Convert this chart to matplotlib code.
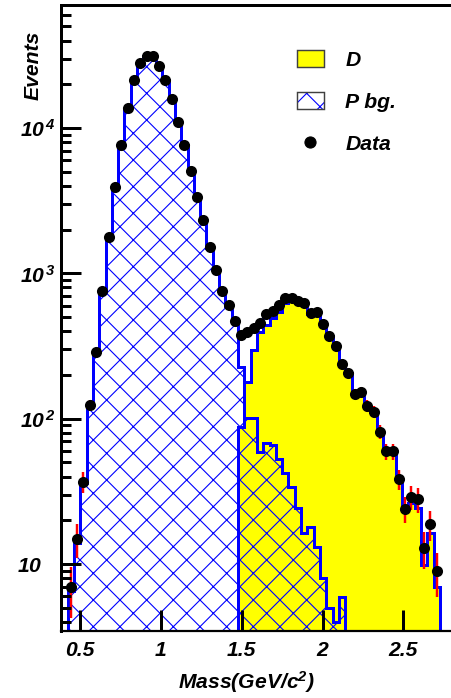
import numpy as np
import matplotlib
matplotlib.use("Agg")
import matplotlib.pyplot as plt
from matplotlib.patches import Patch
from matplotlib.lines import Line2D
from matplotlib.legend_handler import HandlerTuple
from matplotlib.ticker import LogLocator, NullFormatter
from matplotlib.transforms import ScaledTranslation

plt.rcParams['font.family'] = 'Liberation Sans'
plt.rcParams['font.weight'] = 'bold'
plt.rcParams['font.style'] = 'italic'
plt.rcParams['axes.labelweight'] = 'bold'
plt.rcParams['mathtext.fontset'] = 'custom'
plt.rcParams['mathtext.rm'] = 'Liberation Sans:bold:italic'
plt.rcParams['mathtext.it'] = 'Liberation Sans:bold:italic'
plt.rcParams['mathtext.bf'] = 'Liberation Sans:bold:italic'
plt.rcParams['hatch.linewidth'] = 1.0

# binning
n_bins = 62
first_edge = 0.385
bin_width = 0.039

# observed counts, bins 1..59
data_counts = [6.9, 14.9, 36.8, 124, 287, 760, 1771, 3935, 7650, 13680,
               21420, 27920, 31480, 31330, 26870, 21330, 15780, 11070, 7650, 5050,
               3355, 2320, 1512, 1055, 760, 607, 468, 375, 397, 419,
               458, 526, 551, 607, 675, 682, 649, 628, 537, 540,
               449, 371, 316, 237, 206, 149, 153, 123, 111, 81,
               59.5, 59.5, 38.5, 24.0, 28.8, 27.9, 12.9, 18.8, 8.95]
data_first_bin = 1

# P background, bins 1..44
p_bg = [6.5, 14, 36, 120, 280, 750, 1750, 3900, 7600, 13600,
        21300, 27800, 31400, 31300, 26800, 21300, 15800, 11000, 7600, 5000,
        3300, 2300, 1500, 1050, 750, 600, 465, 227, 101, 101,
        59.3, 68.4, 65.9, 52.6, 42.5, 33.7, 24.2, 16.3, 17.9, 13.0,
        7.97, 4.96, 4.0, 5.9]
p_first_bin = 1

# D signal, bins 28..59
d_sig = [88, 180, 297, 397, 442, 493, 545, 630, 645, 625,
         610, 525, 520, 440, 365, 310, 232, 206, 149, 153,
         123, 111, 80, 59.3, 58, 37.8, 24.2, 26.3, 24.3, 9.8,
         16.3, 7.0]
d_first_bin = 28

# fitted total in the overlap bins 28..30 (elsewhere P + D)
fit_total = [372, 395, 416]
fit_first_bin = 28

x_ticks = [0.5, 1, 1.5, 2, 2.5]
x_tick_labels = ['0.5', '1', '1.5', '2', '2.5']
y_ticks = [10, 100, 1000, 10000]
y_tick_labels = [r'$10$', r'$10^{\,2}$', r'$10^{\,3}$', r'$10^{\,4}$']
legend_labels = ['D', 'P bg.', 'Data']


def binned(values, first):
    h = np.zeros(n_bins)
    h[first:first + len(values)] = values
    return h


edges = first_edge + bin_width * np.arange(n_bins + 1)
centers = 0.5 * (edges[:-1] + edges[1:])

h_data = binned(data_counts, data_first_bin)
h_p = binned(p_bg, p_first_bin)
h_d = binned(d_sig, d_first_bin)
h_tot = h_p + h_d
h_tot[fit_first_bin:fit_first_bin + len(fit_total)] = fit_total

floor = 1.0  # below the visible range on the log axis


def lift(h):
    return np.where(h > 0, h, floor)


W, H, DPI = 451, 698, 80
fig = plt.figure(figsize=(W / DPI, H / DPI), dpi=DPI)
ax = fig.add_axes([61.4 / W, 67 / H, 390.6 / W, 626 / H])
ax.set_yscale('log')

lw_hist = 2.7
ax.stairs(lift(h_d), edges, baseline=floor, fill=True,
          facecolor='yellow', edgecolor='blue', linewidth=lw_hist, zorder=2)
ax.stairs(lift(h_p), edges, baseline=floor, fill=True,
          facecolor='none', edgecolor='blue', hatch='x', linewidth=lw_hist, zorder=3)
ax.stairs(lift(h_tot), edges, baseline=floor, fill=False,
          color='blue', linewidth=lw_hist, zorder=4)

sel = h_data > 0
xc = centers[sel]
yc = h_data[sel]
err = np.sqrt(yc)
ax.vlines(xc, yc - err, yc + err, colors='red', linewidth=2.2, zorder=5)
ax.plot(xc, yc, 'o', color='black', markersize=10, markeredgewidth=0, zorder=6)

ax.set_xlim(0.385, 2.80)
ax.set_ylim(3.46, 70240)

ax.set_xticks(x_ticks, labels=x_tick_labels)
ax.xaxis.set_minor_locator(plt.NullLocator())
ax.set_yticks(y_ticks, labels=y_tick_labels)
ax.yaxis.set_minor_locator(LogLocator(base=10, subs=np.arange(2, 10)))
ax.yaxis.set_minor_formatter(NullFormatter())

ax.tick_params(axis='x', which='major', direction='in', length=19, width=2.7,
               pad=9, labelsize=19, top=False)
ax.tick_params(axis='y', which='major', direction='in', length=18, width=2.7,
               pad=5, labelsize=19, right=False)
ax.tick_params(axis='y', which='minor', direction='in', length=9, width=2.7,
               right=False)

# ticks and frame on top of the filled histograms
ax.xaxis.set_zorder(7)
ax.yaxis.set_zorder(7)
for side in ('left', 'top', 'bottom'):
    ax.spines[side].set_zorder(7)
ax.spines['right'].set_visible(False)
ax.spines['left'].set_linewidth(2.7)
ax.spines['top'].set_linewidth(2.7)
ax.spines['bottom'].set_linewidth(2.0)

# the plain "10" label sits further left than the powers
tick10 = ax.yaxis.get_major_ticks()[0]
tick10.label1.set_transform(tick10.label1.get_transform()
                            + ScaledTranslation(-14 / DPI, 0, fig.dpi_scale_trans))

ax.set_xlabel(r'Mass(GeV/c$^{2}$)', fontsize=19, fontweight='bold')
ax.xaxis.set_label_coords(0.474, -0.061)
ax.set_ylabel('Events', fontsize=19, fontweight='bold')
ax.yaxis.set_label_coords(-0.049, 0.903)

handles = [
    Patch(facecolor='yellow', edgecolor='#404040', linewidth=1.3),
    (Patch(facecolor='white', edgecolor='blue', hatch='x', linewidth=0),
     Patch(facecolor='none', edgecolor='#404040', linewidth=1.3)),
    Line2D([], [], linestyle='none', marker='o', color='black', markersize=10),
]
ax.legend(handles, legend_labels, handler_map={tuple: HandlerTuple(ndivide=1)},
          loc='upper left', bbox_to_anchor=(296.7 / W, 1 - 50 / H),
          bbox_transform=fig.transFigure, frameon=False, fontsize=19,
          borderpad=0, borderaxespad=0, handlelength=1.27, handleheight=0.84,
          handletextpad=1.03, labelspacing=1.07, numpoints=1)

fig.savefig('out.png', dpi=DPI)
